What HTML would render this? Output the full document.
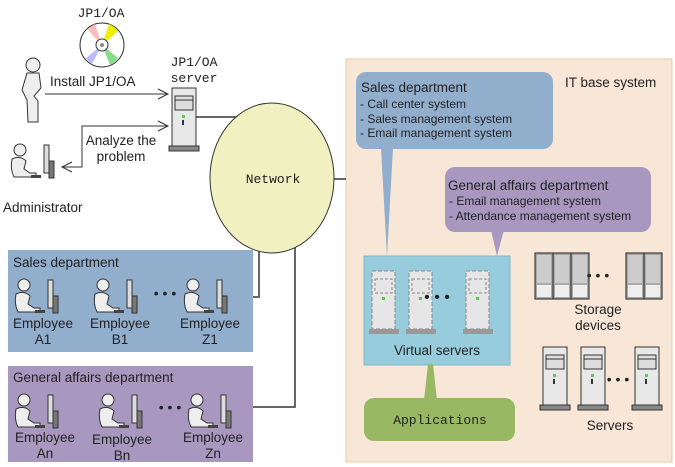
<!DOCTYPE html>
<html><head><meta charset="utf-8"><style>
body{margin:0;background:#fff}
svg{display:block}
text{font-family:"Liberation Sans",sans-serif;font-size:13.5px;fill:#222}
.m{font-family:"Liberation Mono",monospace;font-size:13px}
.s{font-size:12px}
</style></head><body>
<svg width="675" height="467" viewBox="0 0 675 467" xmlns="http://www.w3.org/2000/svg">
<defs>
<g id="emp">
 <circle cx="10" cy="7" r="6" fill="#eee" stroke="#333"/>
 <path d="M2 16 Q10 12 16 18 L14 26 L20 30 L26 30 L26 34 L4 34 Q0 26 2 16Z" fill="#eee" stroke="#333"/>
 <rect x="21" y="32" width="10" height="3" fill="#444"/>
 <rect x="34" y="2" width="5" height="28" fill="#ddd" stroke="#333"/>
 <rect x="39" y="18" width="5" height="17" fill="#777" stroke="#333"/>
</g>
<g id="srv">
 <rect x="0" y="0" width="24" height="58" fill="#e8e8e8" stroke="#333"/>
 <rect x="3" y="8" width="18" height="14" fill="#ddd" stroke="#333"/>
 <line x1="3" y1="12" x2="21" y2="12" stroke="#333"/>
 <rect x="10" y="27" width="3" height="3" fill="#5c5"/>
 <rect x="10" y="32" width="2" height="5" fill="#333"/>
 <rect x="-3" y="58" width="30" height="5" fill="#888" stroke="#333"/>
</g>
<g id="vsrv">
 <rect x="0" y="0" width="23" height="58" fill="#e6e6e6" stroke="#888" stroke-dasharray="4 2"/>
 <rect x="3" y="8" width="17" height="14" fill="none" stroke="#888" stroke-dasharray="3 2"/>
 <rect x="10" y="26" width="3" height="3" fill="#5c5"/>
 <rect x="-3" y="58" width="30" height="5" fill="#999"/>
</g>
<g id="stor">
 <rect x="0" y="0" width="18" height="46" fill="#aaa" stroke="#222"/>
 <rect x="2" y="2" width="14" height="28" fill="#ccc"/>
 <rect x="2" y="32" width="14" height="12" fill="#eee"/>
</g>
</defs>

<rect x="346" y="59" width="326" height="403" fill="#f8e6d6" stroke="#e8c8a8"/>
<text x="565" y="87">IT base system</text>

<path d="M381 148 L393 148 L387 256 Z" fill="#92aecd"/>
<rect x="356" y="72" width="197" height="77" rx="10" fill="#92aecd"/>
<text x="361" y="92">Sales department</text>
<text x="360" y="108" class="s">- Call center system</text>
<text x="360" y="123" class="s">- Sales management system</text>
<text x="360" y="137" class="s">- Email management system</text>

<path d="M491 230 L504 230 L497 256 Z" fill="#a898c0"/>
<rect x="445" y="167" width="206" height="65" rx="10" fill="#a898c0"/>
<text x="448" y="190">General affairs department</text>
<text x="449" y="205" class="s">- Email management system</text>
<text x="449" y="220" class="s">- Attendance management system</text>

<rect x="364" y="256" width="146" height="109" fill="#96ccdc" stroke="#7ab8cc"/>
<use href="#vsrv" x="372" y="271"/>
<use href="#vsrv" x="409" y="271"/>
<use href="#vsrv" x="466" y="271"/>
<text x="437" y="302" style="font-size:16px" text-anchor="middle">• • •</text>
<text x="437" y="355" text-anchor="middle">Virtual servers</text>

<path d="M428 364 L433 364 L437 400 L424 400 Z" fill="#98b864"/>
<rect x="364" y="398" width="151" height="43" rx="10" fill="#98b864"/>
<text x="440" y="424" class="m" text-anchor="middle">Applications</text>

<use href="#stor" x="535" y="253"/><use href="#stor" x="553" y="253"/><use href="#stor" x="571" y="253"/>
<use href="#stor" x="626" y="253"/><use href="#stor" x="644" y="253"/>
<text x="598" y="280" style="font-size:14px" text-anchor="middle">• • •</text>
<text x="598" y="314" text-anchor="middle">Storage</text>
<text x="598" y="330" text-anchor="middle">devices</text>

<use href="#srv" x="543" y="347"/><use href="#srv" x="581" y="347"/><use href="#srv" x="635" y="347"/>
<text x="618" y="384" style="font-size:14px" text-anchor="middle">• • •</text>
<text x="610" y="430" text-anchor="middle">Servers</text>

<line x1="195" y1="117" x2="240" y2="117" stroke="#666" stroke-width="2"/>
<line x1="333" y1="179" x2="346" y2="179" stroke="#666" stroke-width="2"/>
<polyline points="259,245 259,297 253,297" fill="none" stroke="#666" stroke-width="2"/>
<polyline points="295,240 295,407 253,407" fill="none" stroke="#333" stroke-width="1.5"/>
<ellipse cx="272" cy="178" rx="62" ry="75" fill="#f0f0c0" stroke="#333"/>
<text x="273" y="183" class="m" text-anchor="middle">Network</text>

<rect x="8" y="250" width="245" height="102" fill="#92aecd"/>
<text x="13" y="267">Sales department</text>
<use href="#emp" x="14" y="278"/><use href="#emp" x="93" y="278"/><use href="#emp" x="183" y="278"/>
<text x="165" y="298" style="font-size:14px" text-anchor="middle">• • •</text>
<text x="43" y="328" text-anchor="middle">Employee</text><text x="43" y="344" text-anchor="middle">A1</text>
<text x="120" y="328" text-anchor="middle">Employee</text><text x="120" y="344" text-anchor="middle">B1</text>
<text x="210" y="328" text-anchor="middle">Employee</text><text x="210" y="344" text-anchor="middle">Z1</text>

<rect x="8" y="366" width="245" height="96" fill="#a898c0"/>
<text x="13" y="382">General affairs department</text>
<use href="#emp" x="14" y="393"/><use href="#emp" x="98" y="393"/><use href="#emp" x="187" y="393"/>
<text x="170" y="412" style="font-size:14px" text-anchor="middle">• • •</text>
<text x="45" y="442" text-anchor="middle">Employee</text><text x="45" y="458" text-anchor="middle">An</text>
<text x="122" y="444" text-anchor="middle">Employee</text><text x="122" y="460" text-anchor="middle">Bn</text>
<text x="213" y="442" text-anchor="middle">Employee</text><text x="213" y="458" text-anchor="middle">Zn</text>

<text x="101" y="17" class="m" text-anchor="middle">JP1/OA</text>
<circle cx="102" cy="45" r="22" fill="#fff" stroke="#333"/>
<path d="M102 45 L88 30 A22 22 0 0 1 95 24Z" fill="#fbb"/>
<path d="M102 45 L109 24 A22 22 0 0 1 118 31Z" fill="#ee0"/>
<path d="M102 45 L118 58 A22 22 0 0 1 110 65Z" fill="#8d8"/>
<path d="M102 45 L92 64 A22 22 0 0 1 86 58Z" fill="#bbf"/>
<circle cx="102" cy="45" r="6" fill="#fff" stroke="#333"/>
<circle cx="102" cy="45" r="2" fill="#888"/>
<text x="194" y="66" class="m" text-anchor="middle">JP1/OA</text>
<text x="194" y="82" class="m" text-anchor="middle">server</text>
<use href="#srv" x="172" y="88"/>

<circle cx="33" cy="65" r="7" fill="#eee" stroke="#333"/>
<path d="M27 73 L39 73 L41 88 L34 96 L38 101 L38 122 L28 122 L27 100 L22 90Z" fill="#eee" stroke="#333"/>
<use href="#emp" x="10" y="143"/>
<text x="3" y="212">Administrator</text>

<text x="50" y="86">Install JP1/OA</text>
<line x1="45" y1="94" x2="168" y2="94" stroke="#333"/>
<polyline points="158,89 168,94 158,99" fill="none" stroke="#333"/>
<polyline points="168,126 82,126 82,167 62,167" fill="none" stroke="#333"/>
<polyline points="158,121 168,126 158,131" fill="none" stroke="#333"/>
<polyline points="72,162 62,167 72,172" fill="none" stroke="#333"/>
<text x="121" y="145" text-anchor="middle">Analyze the</text>
<text x="121" y="161" text-anchor="middle">problem</text>
</svg>
</body></html>
